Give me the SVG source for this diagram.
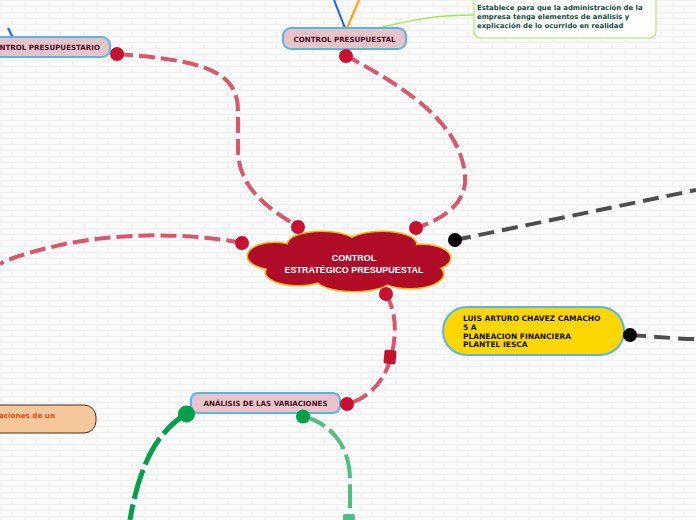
<svg xmlns="http://www.w3.org/2000/svg" width="696" height="520" viewBox="0 0 696 520">
<defs>
<pattern id="brick" width="24" height="12" patternUnits="userSpaceOnUse">
<rect width="24" height="12" fill="#fbfbfb"/>
<path d="M0,0.5H24M0,6.5H24M0.5,0V6M12.5,6V12" stroke="#f0f0f0" stroke-width="1" fill="none"/>
</pattern>
<style>
.lbl{font-family:"DejaVu Sans",Verdana,sans-serif;font-weight:bold;font-size:7.1px;fill:#4a0f1f}
.pink{fill:#e6c4ca;stroke:#5ab4e5;stroke-width:2}
.red{fill:none;stroke:#d9566b;stroke-width:4;stroke-dasharray:16 6}
.rdot{fill:#c8102e}
.cl{fill:#b00c28}
.clo{fill:#b00c28;stroke:#f4b400;stroke-width:3}
.au{font-family:"DejaVu Sans",Verdana,sans-serif;font-weight:bold;font-size:7.5px;fill:#111}
.ds{font-family:"DejaVu Sans",Verdana,sans-serif;font-weight:bold;font-size:6.9px;fill:#164a3c}
</style>
</defs>
<rect width="696" height="520" fill="url(#brick)"/>

<g id="connectors">
<path class="red" d="M117,54 C200,60 238,70 238,110 L238,150 C238,190 272,210 298,227"/>
<path class="red" d="M345,55 C400,85 460,120 465,175 C468,205 440,220 416,228"/>
<path class="red" d="M242,243 C190,233 120,232 60,245 C30,252 10,258 0,264"/>
<path class="red" d="M386,294 C395,310 398,330 391,357 C385,380 370,398 347,404"/>
<path d="M455,240 L696,190" fill="none" stroke="#4d4d4d" stroke-width="4" stroke-dasharray="16 8"/>
<path d="M630,335 C660,337 680,339 696,339" fill="none" stroke="#4d4d4d" stroke-width="4" stroke-dasharray="16 8"/>
<path d="M186,414 C160,430 140,460 130,520" fill="none" stroke="#00a04a" stroke-width="5" stroke-dasharray="30 6"/>
<path d="M303,416 C335,425 350,450 350,480 L350,520" fill="none" stroke="#4cc07e" stroke-width="4" stroke-dasharray="24 6"/>
<path d="M345,28 L334,0" fill="none" stroke="#1a5ef5" stroke-width="2"/>
<path d="M347,28 L359,0" fill="none" stroke="#ffa000" stroke-width="2"/>
<path d="M8,28 L13,38" fill="none" stroke="#1a5ef5" stroke-width="2"/>
<path d="M383,27 C420,18 440,15 474,15" fill="none" stroke="#a0e84a" stroke-width="1.5"/>
<rect x="384" y="350" width="12" height="14" rx="2" fill="#c8102e" transform="rotate(5 390 357)"/>
<rect x="343" y="514" width="12" height="12" rx="2" fill="#4cc07e"/>
</g>

<g id="center">
<ellipse class="clo" cx="275" cy="256" rx="27" ry="13"/>
<ellipse class="clo" cx="322" cy="244" rx="34" ry="12"/>
<ellipse class="clo" cx="382" cy="244" rx="34" ry="12"/>
<ellipse class="clo" cx="422" cy="258" rx="28" ry="13"/>
<ellipse class="clo" cx="410" cy="274" rx="33" ry="14"/>
<ellipse class="clo" cx="354" cy="278" rx="38" ry="13"/>
<ellipse class="clo" cx="298" cy="272" rx="32" ry="13"/>
<ellipse class="cl" cx="275" cy="256" rx="27" ry="13"/>
<ellipse class="cl" cx="322" cy="244" rx="34" ry="12"/>
<ellipse class="cl" cx="382" cy="244" rx="34" ry="12"/>
<ellipse class="cl" cx="422" cy="258" rx="28" ry="13"/>
<ellipse class="cl" cx="410" cy="274" rx="33" ry="14"/>
<ellipse class="cl" cx="354" cy="278" rx="38" ry="13"/>
<ellipse class="cl" cx="298" cy="272" rx="32" ry="13"/>
<ellipse class="cl" cx="350" cy="261" rx="82" ry="20"/>
<text x="354" y="261" text-anchor="middle" font-family="'Liberation Sans',Arial,sans-serif" font-weight="bold" font-size="9" fill="#ffffff">CONTROL</text>
<text x="354" y="273" text-anchor="middle" font-family="'Liberation Sans',Arial,sans-serif" font-weight="bold" font-size="9" fill="#ffffff">ESTRATÉGICO PRESUPUESTAL</text>
<circle class="rdot" cx="298" cy="227" r="7"/>
<circle class="rdot" cx="416" cy="228" r="7"/>
<circle class="rdot" cx="242" cy="243" r="7"/>
<circle class="rdot" cx="386" cy="294" r="7"/>
<circle cx="455" cy="240" r="7" fill="#000"/>
</g>

<g id="control-presupuestal">
<rect class="pink" x="283" y="28" width="123" height="21" rx="8"/>
<text class="lbl" x="344.5" y="42" text-anchor="middle">CONTROL PRESUPUESTAL</text>
<circle class="rdot" cx="346" cy="56" r="7"/>
</g>

<g id="control-presupuestario">
<rect class="pink" x="-20" y="37" width="130" height="20" rx="8"/>
<text class="lbl" x="100" y="50" text-anchor="end">CONTROL PRESUPUESTARIO</text>
<circle class="rdot" cx="117" cy="54" r="7"/>
</g>

<g id="descripcion">
<rect x="474" y="-8" width="182" height="46" rx="6" fill="#ffffff" stroke="#a0e84a" stroke-width="1"/>
<text class="ds" x="477" y="10">Establece para que la administración de la</text>
<text class="ds" x="477" y="19">empresa tenga elementos de análisis y</text>
<text class="ds" x="477" y="27.5">explicación de lo ocurrido en realidad</text>
</g>

<g id="autor">
<rect x="443" y="307" width="181" height="48" rx="24" fill="#ffd700" stroke="#5ab4e5" stroke-width="2"/>
<text class="au" x="463" y="321">LUIS ARTURO CHAVEZ CAMACHO</text>
<text class="au" x="463" y="329.7">5 A</text>
<text class="au" x="463" y="338.5">PLANEACION FINANCIERA</text>
<text class="au" x="463" y="347.2">PLANTEL IESCA</text>
<circle cx="630" cy="335" r="7" fill="#000"/>
</g>

<g id="analisis">
<rect class="pink" x="191" y="393" width="149" height="20" rx="7"/>
<text class="lbl" x="265.5" y="406" text-anchor="middle" font-size="7.3">ANÁLISIS DE LAS VARIACIONES</text>
<circle class="rdot" cx="347" cy="404" r="7"/>
<circle cx="186.5" cy="414" r="8.5" fill="#00a04a"/>
<circle cx="303" cy="416.5" r="7" fill="#00a04a"/>
</g>

<g id="variaciones">
<rect x="-20" y="405" width="116" height="28" rx="12" fill="#f5c89c" stroke="#4a2a1a" stroke-width="1"/>
<text x="-1" y="417.5" font-family="'DejaVu Sans',Verdana,sans-serif" font-weight="bold" font-size="7.2" fill="#f04a0a">aciones de un</text>
</g>
</svg>
